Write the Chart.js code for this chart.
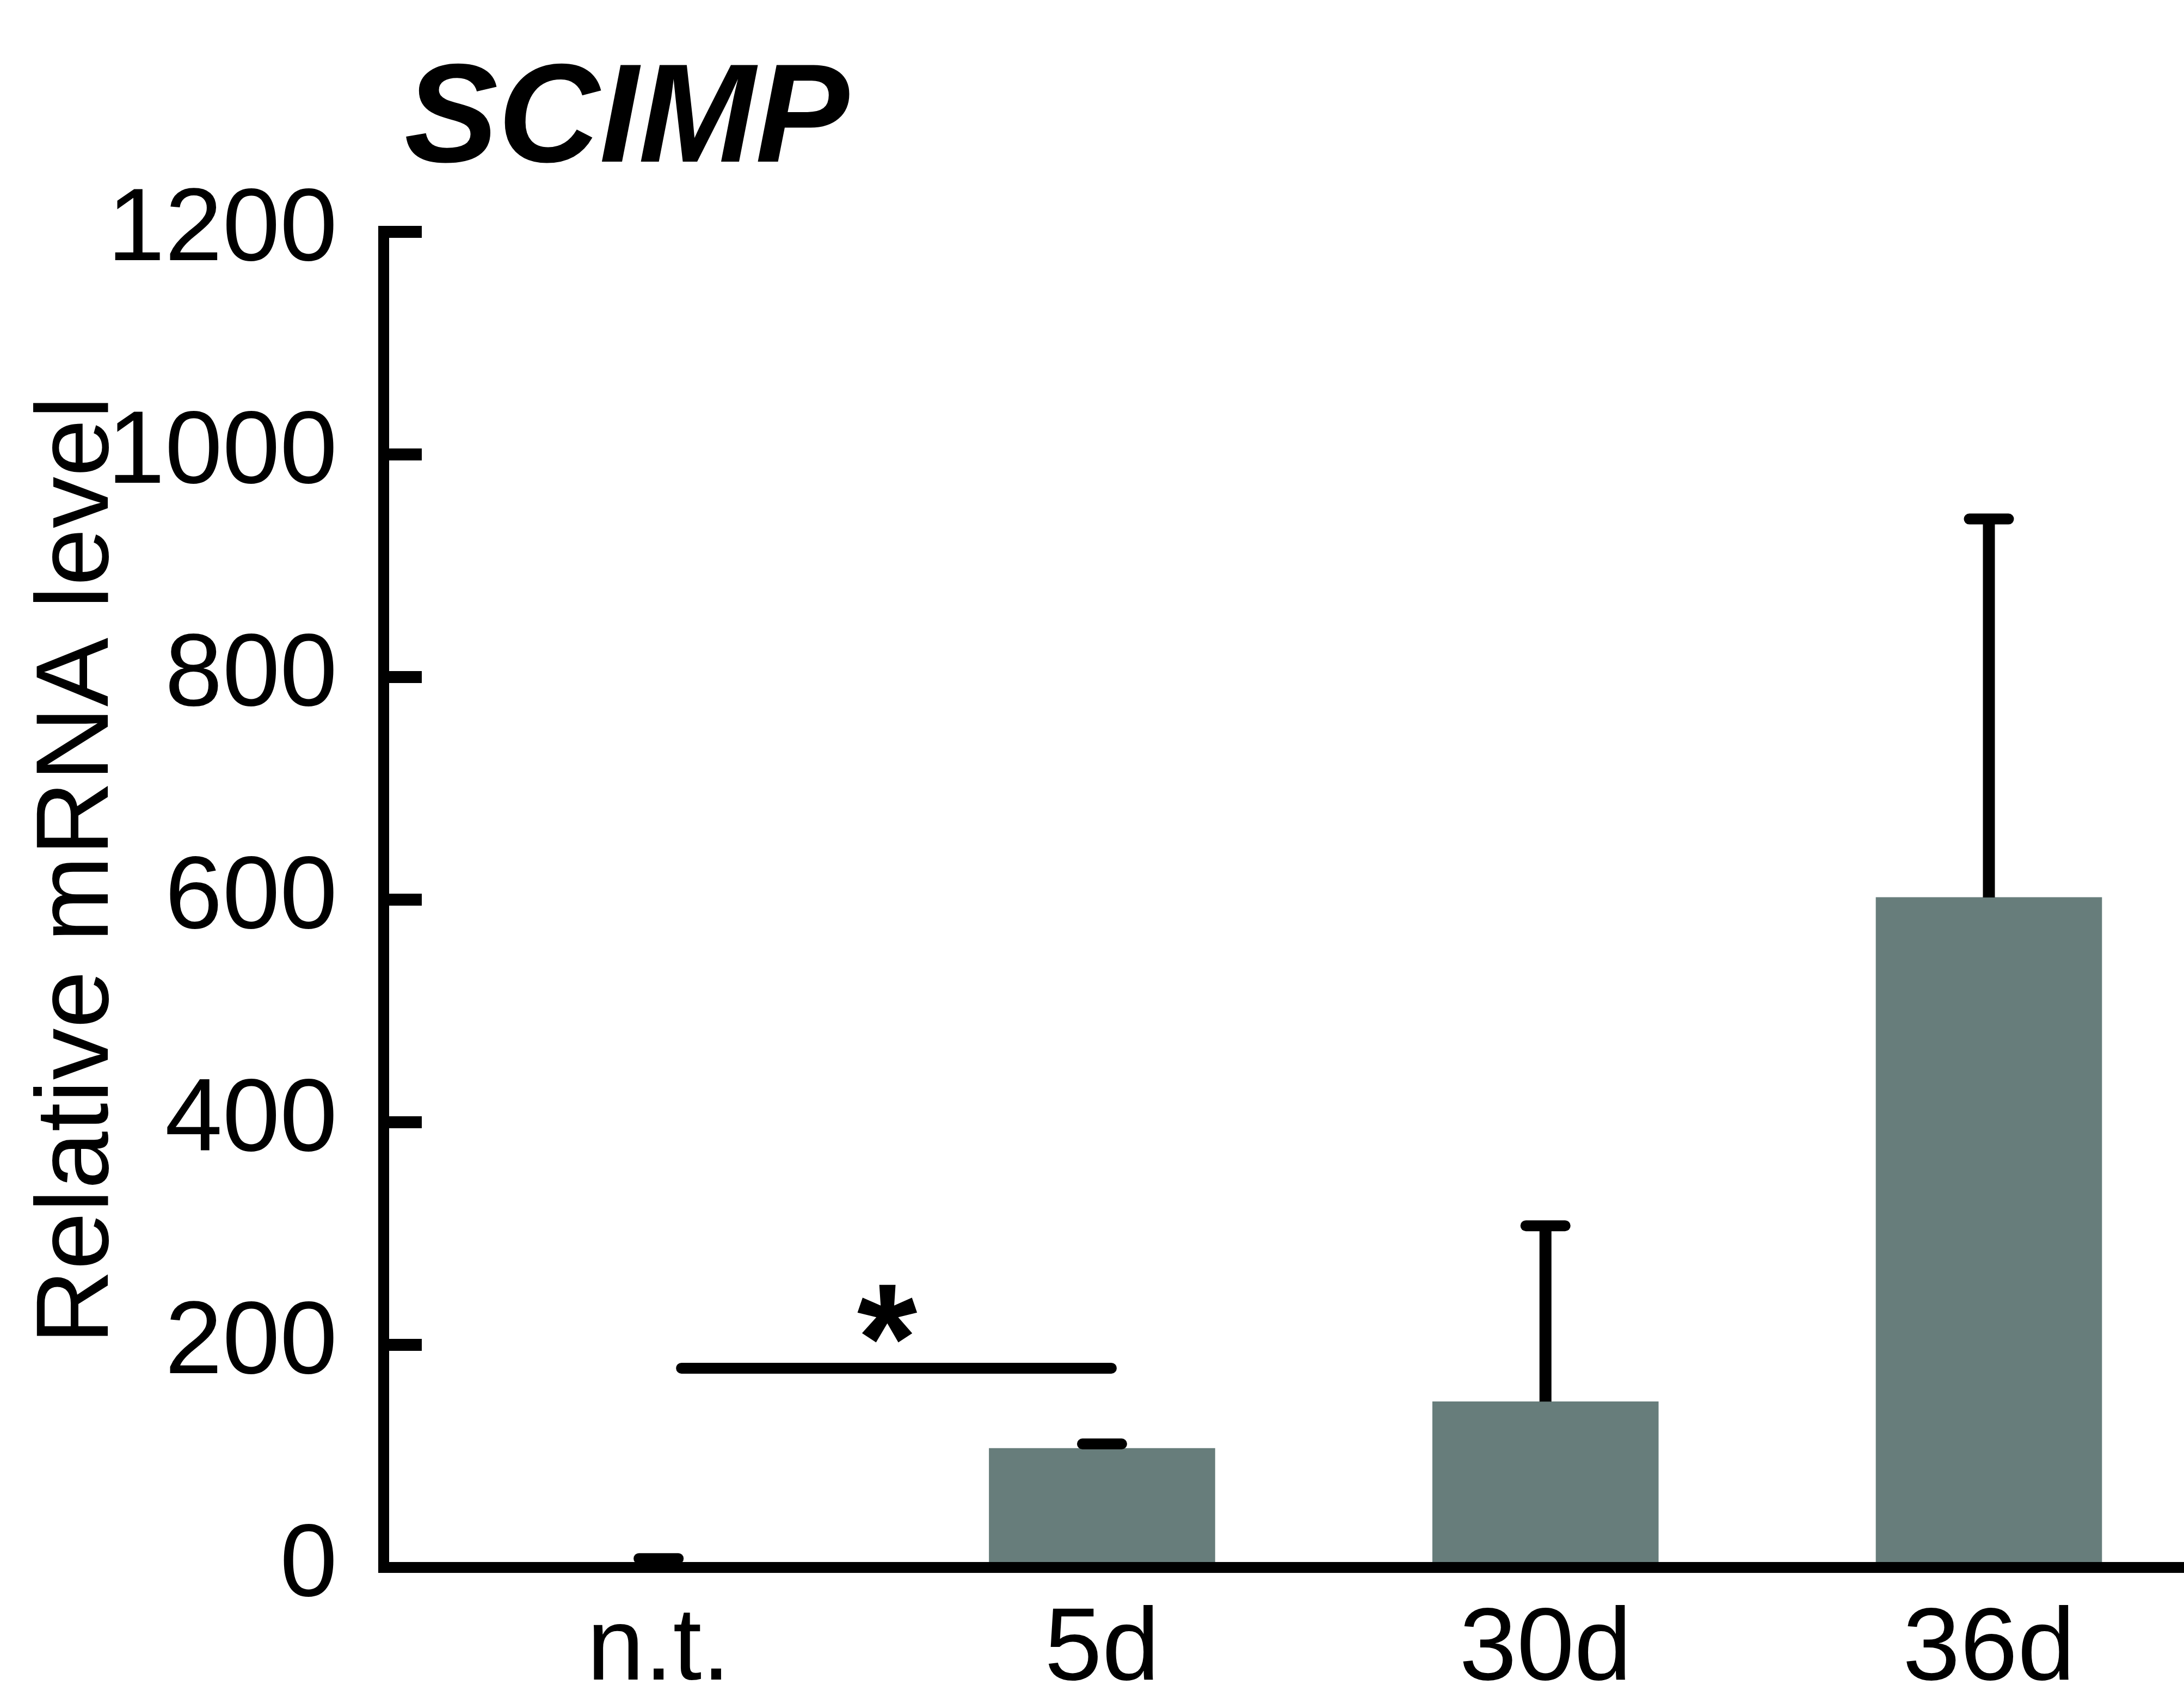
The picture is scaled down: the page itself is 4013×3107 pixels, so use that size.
<!DOCTYPE html>
<html>
<head>
<meta charset="utf-8">
<script src="https://cdn.jsdelivr.net/npm/chart.js@4"></script>
<style>
  html, body { margin: 0; padding: 0; background: #fff; }
  canvas { display: block; }
</style>
</head>
<body>
<canvas id="myChart" width="4013" height="3107"></canvas>
<script>
/*----------------------------------------------------------------------------*/
/* Data                                                                       */
/*----------------------------------------------------------------------------*/
const categories = ['n.t.', '5d', '30d', '36d'];
const values = [1, 107, 149, 602];
const errors = [7, 4, 158, 340];
const y_ticks = [0, 200, 400, 600, 800, 1000, 1200];
const gene_name = 'SCIMP';
const y_title = 'Relative mRNA level';
// significance: n.t. vs 5d
const sig_pair = [0, 1];
const sig_level = 179;
const sig_mark = '*';

const font_family = '"Liberation Sans", Arial, Helvetica, sans-serif';
const bar_color = '#677d7b';

/*----------------------------------------------------------------------------*/
/* Extra drawing: title, axis title, inward ticks, error bars, significance  */
/*----------------------------------------------------------------------------*/
const extras = {
    id: 'extras',
    afterDraw(chart) {
        const ctx = chart.ctx;
        const xs = chart.scales.x;
        const ys = chart.scales.y;
        const area = chart.chartArea;

        ctx.save();
        ctx.strokeStyle = '#000';
        ctx.fillStyle = '#000';

        // ticks pointing into the plot
        ctx.lineWidth = 22;
        ctx.lineCap = 'butt';
        for (const t of y_ticks) {
            if (t === 0) continue;
            const py = ys.getPixelForValue(t);
            ctx.beginPath();
            ctx.moveTo(area.left - 10, py);
            ctx.lineTo(area.left + 70, py);
            ctx.stroke();
        }

        // error bars (upper only)
        const meta = chart.getDatasetMeta(0);
        meta.data.forEach(function (bar, i) {
            const top = ys.getPixelForValue(values[i] + errors[i]);
            ctx.lineWidth = 22;
            ctx.lineCap = 'butt';
            ctx.beginPath();
            ctx.moveTo(bar.x, bar.y);
            ctx.lineTo(bar.x, top);
            ctx.stroke();
            ctx.lineWidth = 20;
            ctx.lineCap = 'round';
            ctx.beginPath();
            ctx.moveTo(bar.x - 36, top);
            ctx.lineTo(bar.x + 36, top);
            ctx.stroke();
        });

        // significance line and star
        const sy = ys.getPixelForValue(sig_level);
        const sx1 = xs.getPixelForValue(sig_pair[0]) + 42;
        const sx2 = xs.getPixelForValue(sig_pair[1]) + 17;
        ctx.lineWidth = 20;
        ctx.lineCap = 'round';
        ctx.beginPath();
        ctx.moveTo(sx1, sy);
        ctx.lineTo(sx2, sy);
        ctx.stroke();

        ctx.font = 'bold 100px ' + font_family;
        let m = ctx.measureText(sig_mark);
        const star_size = 100 * 108 / (m.actualBoundingBoxAscent + m.actualBoundingBoxDescent);
        ctx.font = 'bold ' + star_size + 'px ' + font_family;
        m = ctx.measureText(sig_mark);
        ctx.textAlign = 'center';
        ctx.textBaseline = 'alphabetic';
        ctx.fillText(sig_mark, (sx1 + sx2) / 2 - 17,
            sy - 102 + (m.actualBoundingBoxAscent - m.actualBoundingBoxDescent) / 2);

        // gene name
        ctx.font = 'italic bold 258px ' + font_family;
        ctx.textAlign = 'left';
        ctx.textBaseline = 'alphabetic';
        ctx.fillText(gene_name, 743, 297);

        // y axis title
        ctx.font = '190px ' + font_family;
        m = ctx.measureText(y_title);
        ctx.translate(130, 1599);
        ctx.rotate(-Math.PI / 2);
        ctx.textAlign = 'center';
        ctx.fillText(y_title, 0, (m.actualBoundingBoxAscent - m.actualBoundingBoxDescent) / 2);

        ctx.restore();
    }
};

/*----------------------------------------------------------------------------*/
/* Chart                                                                      */
/*----------------------------------------------------------------------------*/
const data = {
    datasets: [{
        data: categories.map((c, i) => ({ x: i, y: values[i] })),
        backgroundColor: bar_color,
        borderWidth: 0,
        barThickness: 415
    }]
};

const config = {
    type: 'bar',
    data: data,
    options: {
        responsive: false,
        animation: false,
        layout: { padding: { top: 426, left: 0, right: 0, bottom: 0 } },
        plugins: {
            legend: { display: false },
            tooltip: { enabled: false },
            title: { display: false }
        },
        scales: {
            x: {
                type: 'linear',
                offset: false,
                min: -0.62,
                max: 3.44,
                grid: { display: false, drawTicks: false, offset: false },
                border: { display: true, color: '#000', width: 20, z: 1 },
                afterBuildTicks: function (scale) {
                    scale.ticks = categories.map((c, i) => ({ value: i }));
                },
                afterFit: function (scale) { scale.height = 227; },
                ticks: {
                    padding: 40,
                    color: '#000',
                    font: { family: font_family, size: 190 },
                    callback: function (v) { return categories[v] !== undefined ? categories[v] : ''; }
                }
            },
            y: {
                min: 0,
                max: 1200,
                grid: { display: false, drawTicks: false },
                border: { display: true, color: '#000', width: 20, z: 1 },
                afterFit: function (scale) { scale.width = 705; },
                ticks: {
                    stepSize: 200,
                    padding: 85,
                    color: '#000',
                    font: { family: font_family, size: 190 },
                    callback: function (v) { return String(v); }
                }
            }
        }
    },
    plugins: [extras]
};

const ctx = document.getElementById('myChart').getContext('2d');
const myBarChart = new Chart(ctx, config);
</script>
</body>
</html>
